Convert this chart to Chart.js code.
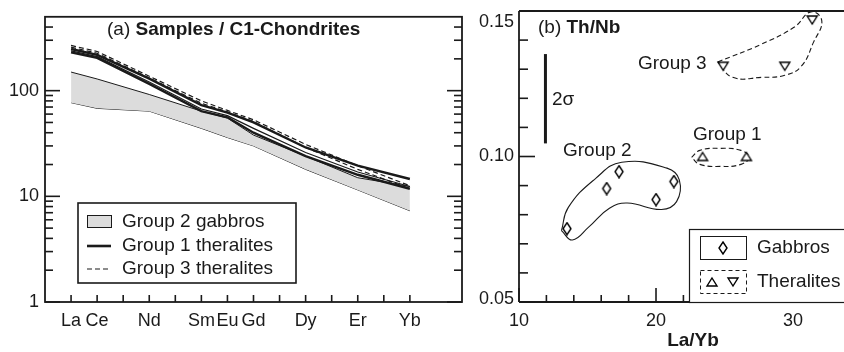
<!DOCTYPE html>
<html>
<head>
    <title>REE patterns and Th/Nb vs La/Yb</title>
    <script src="https://cdn.jsdelivr.net/npm/chart.js"></script>
    <style>
        body {
            margin: 0;
            background: #ffffff;
        }
        #wrap {
            position: relative;
            width: 844px;
            height: 352px;
        }
        #leftChart {
            position: absolute;
            left: 0;
            top: 0;
        }
        #rightChart {
            position: absolute;
            left: 470px;
            top: 0;
        }
    </style>
</head>
<body>

    <div id="wrap">
        <canvas id="leftChart" width="470" height="352"></canvas>
        <canvas id="rightChart" width="374" height="352"></canvas>
    </div>

    <script>
        // ---- panel (a): chondrite normalised REE ----
        const reeAxis = ['La', 'Ce', 'Pr', 'Nd', 'Pm', 'Sm', 'Eu', 'Gd', 'Tb', 'Dy', 'Ho', 'Er', 'Tm', 'Yb'];
        const reeMeasured = ['La', 'Ce', 'Nd', 'Sm', 'Eu', 'Gd', 'Dy', 'Er', 'Yb'];

        const gabbroUpper = [150, 129, 92, 64, 55, 38, 24, 15, 12.4];
        const gabbroLower = [77, 68, 64, 44, 36, 30, 18, 11.5, 7.3];

        const group1A = [230, 204, 116, 64, 56, 40, 24, 16, 11.8];
        const group1B = [238, 210, 121, 67, 58, 44, 26, 17, 12.4];
        const group1C = [248, 218, 130, 73, 62, 50, 29, 19.5, 14.6];

        const group3A = [268, 235, 137, 80, 65, 53, 31, 19.5, 12.6];
        const group3B = [258, 226, 132, 76, 63, 51, 29, 18, 11.8];

        const reeYMajor = [1, 10, 100];
        const reeYMinor = [2, 3, 4, 5, 6, 7, 8, 9, 20, 30, 40, 50, 60, 70, 80, 90, 200, 300, 400];

        // ---- panel (b): Th/Nb vs La/Yb ----
        const gabbroLaYb = [13.5, 16.4, 17.3, 20.0, 21.3];
        const gabbroThNb = [0.0752, 0.0890, 0.0948, 0.0852, 0.0914];
        const group1LaYb = [23.4, 26.6];
        const group1ThNb = [0.1000, 0.1000];
        const group3LaYb = [24.9, 29.4, 31.4];
        const group3ThNb = [0.1310, 0.1310, 0.1469];

        // hand-drawn group envelopes
        const group2HullX = [13.1, 13.9, 15.1, 16.6, 17.9, 20.4, 21.5, 21.7, 20.8, 17.5, 15.6, 13.6, 13.1];
        const group2HullY = [0.0745, 0.0713, 0.0758, 0.0822, 0.0840, 0.0818, 0.0845, 0.0920, 0.0960, 0.0980, 0.0925, 0.0825, 0.0745];
        const group1HullX = [22.6, 23.2, 24.7, 26.2, 26.8, 26.2, 24.7, 23.2, 22.6];
        const group1HullY = [0.0997, 0.1021, 0.1028, 0.1021, 0.0997, 0.0973, 0.0966, 0.0973, 0.0997];
        const group3HullX = [24.5, 27.7, 30.1, 31.3, 32.1, 31.5, 30.6, 29.4, 27.7, 25.6, 24.5];
        const group3HullY = [0.1325, 0.1386, 0.1445, 0.1497, 0.1466, 0.1393, 0.1310, 0.1279, 0.1272, 0.1272, 0.1325];

        const sigmaX = [11.93, 11.93];
        const sigmaY = [0.1045, 0.1352];

        const laybMajor = [10, 20, 30];
        const laybMinor = [12, 14, 16, 18, 22, 24, 26, 28, 32];
        const thnbMajor = [0.05, 0.10, 0.15];
        const thnbMinor = [0.06, 0.07, 0.08, 0.09, 0.11, 0.12, 0.13, 0.14];

        const FONT = '"Liberation Sans", Arial, sans-serif';
        const INK = '#1a1a1a';
        Chart.defaults.font.family = FONT;
        Chart.defaults.color = INK;

        function reePoints(values) {
            return reeMeasured.map((el, i) => ({ x: reeAxis.indexOf(el), y: values[i] }));
        }
        function xyPoints(xs, ys) {
            return xs.map((x, i) => ({ x: x, y: ys[i] }));
        }

        // small open markers
        function makeMarker(kind) {
            const c = document.createElement('canvas');
            c.width = 14;
            c.height = 14;
            const g = c.getContext('2d');
            g.strokeStyle = '#000000';
            g.lineWidth = 1.4;
            g.lineJoin = 'miter';
            g.fillStyle = '#ffffff';
            g.beginPath();
            if (kind === 'diamond') {
                g.moveTo(7, 1); g.lineTo(11, 7); g.lineTo(7, 13); g.lineTo(3, 7);
            } else if (kind === 'up') {
                g.moveTo(7, 3); g.lineTo(12, 11); g.lineTo(2, 11);
            } else {
                g.moveTo(2, 3); g.lineTo(12, 3); g.lineTo(7, 11);
            }
            g.closePath();
            g.fill();
            g.stroke();
            return c;
        }
        const diamondMark = makeMarker('diamond');
        const upMark = makeMarker('up');
        const downMark = makeMarker('down');

        function line(ctx, x1, y1, x2, y2) {
            ctx.beginPath();
            ctx.moveTo(x1, y1);
            ctx.lineTo(x2, y2);
            ctx.stroke();
        }

        // text with a normal prefix and a bold rest
        function mixedText(ctx, x, y, normal, bold, size) {
            ctx.textBaseline = 'alphabetic';
            ctx.textAlign = 'left';
            ctx.font = size + 'px ' + FONT;
            ctx.fillText(normal, x, y);
            const w = ctx.measureText(normal).width;
            ctx.font = 'bold ' + size + 'px ' + FONT;
            ctx.fillText(bold, x + w, y);
        }

        // ---------- panel (a) ----------
        const leftDecor = {
            id: 'leftDecor',
            afterDraw(chart) {
                const ctx = chart.ctx;
                const a = chart.chartArea;
                const xs = chart.scales.x;
                const ys = chart.scales.y;
                ctx.save();
                ctx.strokeStyle = INK;
                ctx.fillStyle = INK;
                ctx.lineWidth = 1.8;
                ctx.strokeRect(a.left, a.top, a.right - a.left, a.bottom - a.top);

                ctx.lineWidth = 1.6;
                reeYMajor.forEach(v => {
                    const py = ys.getPixelForValue(v);
                    line(ctx, a.left, py, a.left + 15, py);
                    line(ctx, a.right, py, a.right - 15, py);
                });
                reeYMinor.forEach(v => {
                    const py = ys.getPixelForValue(v);
                    line(ctx, a.left, py, a.left + 8, py);
                    line(ctx, a.right, py, a.right - 8, py);
                });
                reeAxis.forEach((el, i) => {
                    const px = xs.getPixelForValue(i);
                    line(ctx, px, a.bottom, px, a.bottom - 7);
                });

                mixedText(ctx, 107, 35, '(a) ', 'Samples / C1-Chondrites', 19);

                // legend
                ctx.lineWidth = 1.6;
                ctx.strokeRect(78, 203, 218, 80);
                ctx.fillStyle = '#dcdcdc';
                ctx.fillRect(87, 215, 24, 12);
                ctx.lineWidth = 1;
                ctx.strokeRect(87.5, 215.5, 24, 12);
                ctx.lineWidth = 2.6;
                line(ctx, 87, 246, 111, 246);
                ctx.lineWidth = 1.2;
                ctx.setLineDash([5, 3]);
                line(ctx, 87, 269, 111, 269);
                ctx.setLineDash([]);
                ctx.fillStyle = INK;
                ctx.font = '19px ' + FONT;
                ctx.textBaseline = 'middle';
                ctx.textAlign = 'left';
                ctx.fillText('Group 2 gabbros', 122, 222);
                ctx.fillText('Group 1 theralites', 122, 246);
                ctx.fillText('Group 3 theralites', 122, 269);
                ctx.restore();
            }
        };

        const solidStyle = (w) => ({ type: 'line', borderColor: INK, borderWidth: w, pointRadius: 0, fill: false, tension: 0 });
        const dashStyle = { type: 'line', borderColor: INK, borderWidth: 1.2, borderDash: [5, 3], pointRadius: 0, fill: false, tension: 0 };

        const leftChart = new Chart(document.getElementById('leftChart').getContext('2d'), {
            type: 'scatter',
            data: {
                datasets: [
                    Object.assign({ data: reePoints(group3A) }, dashStyle),
                    Object.assign({ data: reePoints(group3B) }, dashStyle),
                    Object.assign({ data: reePoints(group1A) }, solidStyle(2.4)),
                    Object.assign({ data: reePoints(group1B) }, solidStyle(1.2)),
                    Object.assign({ data: reePoints(group1C) }, solidStyle(2.4)),
                    { type: 'line', data: reePoints(gabbroUpper), borderColor: INK, borderWidth: 1,
                      backgroundColor: '#dcdcdc', pointRadius: 0, fill: '+1', tension: 0 },
                    { type: 'line', data: reePoints(gabbroLower), borderColor: INK, borderWidth: 1,
                      pointRadius: 0, fill: false, tension: 0 }
                ]
            },
            options: {
                responsive: false,
                animation: false,
                layout: { padding: { top: 10, right: 8, left: 0, bottom: 0 } },
                plugins: { legend: { display: false }, tooltip: { enabled: false } },
                scales: {
                    x: {
                        type: 'linear',
                        min: -1,
                        max: 15,
                        grid: { display: false, drawTicks: false },
                        border: { display: false },
                        afterBuildTicks: (s) => { s.ticks = reeMeasured.map(el => ({ value: reeAxis.indexOf(el) })); },
                        afterFit: (s) => { s.height = 50; },
                        ticks: {
                            autoSkip: false,
                            maxRotation: 0,
                            padding: 8,
                            color: INK,
                            font: { size: 18 },
                            callback: (v) => reeAxis[v]
                        }
                    },
                    y: {
                        type: 'logarithmic',
                        min: 1,
                        max: 500,
                        grid: { display: false, drawTicks: false },
                        border: { display: false },
                        afterBuildTicks: (s) => { s.ticks = reeYMajor.map(v => ({ value: v })); },
                        afterFit: (s) => { s.width = 45; },
                        ticks: {
                            padding: 6,
                            color: INK,
                            font: { size: 18 },
                            callback: (v) => String(v)
                        }
                    }
                }
            },
            plugins: [leftDecor]
        });

        // ---------- panel (b) ----------
        const rightDecor = {
            id: 'rightDecor',
            afterDraw(chart) {
                const ctx = chart.ctx;
                const a = chart.chartArea;
                const xs = chart.scales.x;
                const ys = chart.scales.y;
                ctx.save();
                ctx.strokeStyle = INK;
                ctx.fillStyle = INK;
                ctx.lineWidth = 1.8;
                line(ctx, a.left, a.top, chart.width, a.top);
                line(ctx, a.left, a.top, a.left, a.bottom);
                line(ctx, a.left, a.bottom, chart.width, a.bottom);

                ctx.lineWidth = 1.6;
                thnbMajor.forEach(v => {
                    const py = ys.getPixelForValue(v);
                    line(ctx, a.left, py, a.left + 16, py);
                });
                thnbMinor.forEach(v => {
                    const py = ys.getPixelForValue(v);
                    line(ctx, a.left, py, a.left + 9, py);
                });
                laybMajor.forEach(v => {
                    const px = xs.getPixelForValue(v);
                    line(ctx, px, a.bottom, px, a.bottom - 14);
                });
                laybMinor.forEach(v => {
                    const px = xs.getPixelForValue(v);
                    line(ctx, px, a.bottom, px, a.bottom - 7);
                });

                // y tick labels, kept inside the canvas at the top
                ctx.font = '18px ' + FONT;
                ctx.textAlign = 'right';
                ctx.textBaseline = 'middle';
                thnbMajor.forEach(v => {
                    const py = Math.min(Math.max(ys.getPixelForValue(v), 22), a.bottom - 3);
                    ctx.fillText(v.toFixed(2), a.left - 5, py);
                });

                // axis title
                ctx.font = 'bold 19px ' + FONT;
                ctx.textAlign = 'center';
                ctx.textBaseline = 'alphabetic';
                ctx.fillText('La/Yb', 223, 346);

                mixedText(ctx, 68, 33, '(b) ', 'Th/Nb', 19);

                ctx.font = '19px ' + FONT;
                ctx.textAlign = 'left';
                ctx.fillText('Group 3', 168, 69);
                ctx.fillText('Group 1', 223, 140);
                ctx.fillText('Group 2', 93, 156);
                ctx.fillText('2\u03C3', 82, 105);

                // legend
                ctx.fillStyle = '#ffffff';
                ctx.fillRect(219, 229, 160, 73);
                ctx.lineWidth = 1.2;
                ctx.strokeRect(219.5, 229.5, 160, 73);
                ctx.lineWidth = 1;
                ctx.strokeRect(230.5, 236.5, 46, 23);
                ctx.setLineDash([4, 3]);
                ctx.strokeRect(230.5, 270.5, 46, 23);
                ctx.setLineDash([]);
                ctx.drawImage(diamondMark, 246, 241);
                ctx.drawImage(upMark, 235, 275);
                ctx.drawImage(downMark, 256, 275);
                ctx.fillStyle = INK;
                ctx.font = '19px ' + FONT;
                ctx.textBaseline = 'middle';
                ctx.fillText('Gabbros', 287, 248);
                ctx.fillText('Theralites', 287, 282);
                ctx.restore();
            }
        };

        const hullStyle = (dash) => ({ showLine: true, borderColor: INK, borderWidth: 1.1, borderDash: dash,
                                       pointRadius: 0, tension: 0.45, fill: false, clip: false });

        const rightChart = new Chart(document.getElementById('rightChart').getContext('2d'), {
            type: 'scatter',
            data: {
                datasets: [
                    { data: xyPoints(gabbroLaYb, gabbroThNb), pointStyle: diamondMark, pointRadius: 6 },
                    { data: xyPoints(group1LaYb, group1ThNb), pointStyle: upMark, pointRadius: 6 },
                    { data: xyPoints(group3LaYb, group3ThNb), pointStyle: downMark, pointRadius: 6 },
                    Object.assign({ data: xyPoints(group2HullX, group2HullY) }, hullStyle([])),
                    Object.assign({ data: xyPoints(group1HullX, group1HullY) }, hullStyle([5, 3])),
                    Object.assign({ data: xyPoints(group3HullX, group3HullY) }, hullStyle([5, 3])),
                    { data: xyPoints(sigmaX, sigmaY), showLine: true, borderColor: INK, borderWidth: 3,
                      pointRadius: 0, fill: false }
                ]
            },
            options: {
                responsive: false,
                animation: false,
                layout: { padding: { top: 11, right: 0, left: 0, bottom: 0 } },
                plugins: { legend: { display: false }, tooltip: { enabled: false } },
                scales: {
                    x: {
                        type: 'linear',
                        min: 10,
                        max: 33.21,
                        grid: { display: false, drawTicks: false },
                        border: { display: false },
                        afterBuildTicks: (s) => { s.ticks = laybMajor.map(v => ({ value: v })); },
                        afterFit: (s) => { s.height = 50; },
                        ticks: {
                            autoSkip: false,
                            maxRotation: 0,
                            padding: 8,
                            color: INK,
                            font: { size: 18 }
                        }
                    },
                    y: {
                        type: 'linear',
                        min: 0.05,
                        max: 0.15,
                        grid: { display: false, drawTicks: false },
                        border: { display: false },
                        afterFit: (s) => { s.width = 49; },
                        ticks: { display: false }
                    }
                }
            },
            plugins: [rightDecor]
        });
    </script>
</body>
</html>
